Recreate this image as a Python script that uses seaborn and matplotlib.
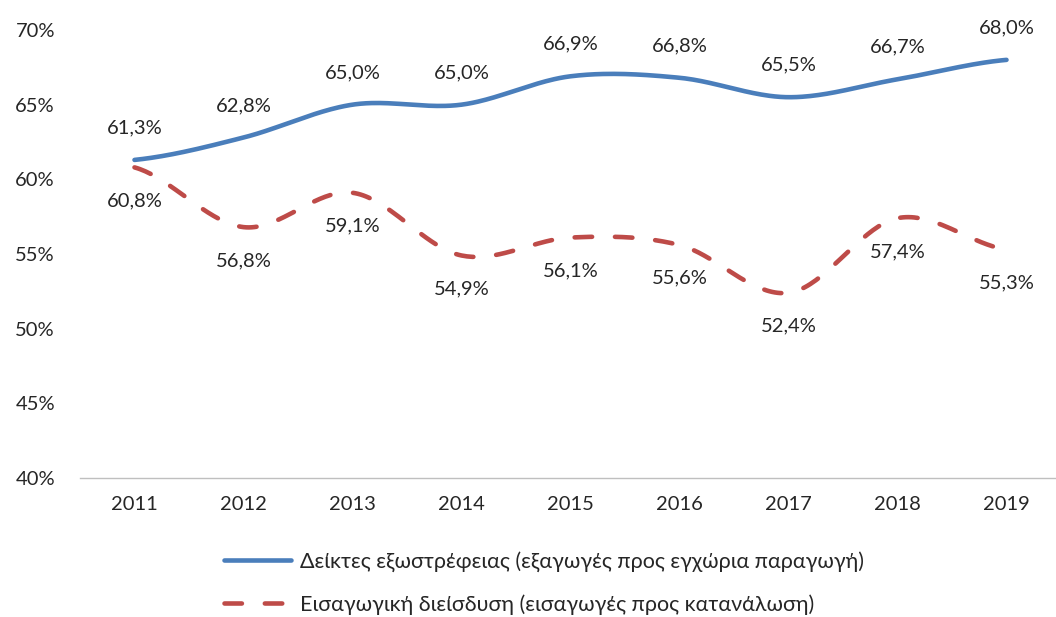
import numpy as np
import pandas as pd
import matplotlib
matplotlib.use("Agg")
import matplotlib.pyplot as plt
import seaborn as sns

years = ["2011", "2012", "2013", "2014", "2015", "2016", "2017", "2018", "2019"]
export_share = [61.3, 62.8, 65.0, 65.0, 66.9, 66.8, 65.5, 66.7, 68.0]
import_penetration = [60.8, 56.8, 59.1, 54.9, 56.1, 55.6, 52.4, 57.4, 55.3]
label_export = "Δείκτες εξωστρέφειας (εξαγωγές προς εγχώρια παραγωγή)"
label_import = "Εισαγωγική διείσδυση (εισαγωγές προς κατανάλωση)"

sns.set_theme(style="white")
plt.rcParams["font.family"] = ["Lato", "Noto Sans", "DejaVu Sans"]


def smooth(vals, n=40):
    # Catmull-Rom style smoothing (like Excel's smoothed line) for drawing only
    p = np.asarray(vals, float)
    k = len(p)
    t = np.zeros(k)
    for i in range(k):
        if i == 0:
            t[i] = (p[1] - p[0]) / 2
        elif i == k - 1:
            t[i] = (p[-1] - p[-2]) / 2
        else:
            t[i] = (p[i + 1] - p[i - 1]) / 2
    xs, ys = [], []
    for i in range(k - 1):
        s = np.linspace(0, 1, n, endpoint=(i == k - 2))
        h00 = 2 * s**3 - 3 * s**2 + 1
        h10 = s**3 - 2 * s**2 + s
        h01 = -2 * s**3 + 3 * s**2
        h11 = s**3 - s**2
        ys.append(h00 * p[i] + h10 * t[i] + h01 * p[i + 1] + h11 * t[i + 1])
        xs.append(i + s)
    return np.concatenate(xs), np.concatenate(ys)


fig = plt.figure(figsize=(10.56, 6.17), dpi=100)
ax = fig.add_axes([80 / 1056, 1 - 478 / 617, 981 / 1056, 448 / 617])

blue = "#4A7EBB"
red = "#BE4B48"
FS = 14.5

x1, y1 = smooth(export_share)
x2, y2 = smooth(import_penetration)
df1 = pd.DataFrame({"x": x1, "y": y1})
df2 = pd.DataFrame({"x": x2, "y": y2})
sns.lineplot(data=df1, x="x", y="y", ax=ax, color=blue, linewidth=3.3,
             label=label_export, solid_capstyle="round")
sns.lineplot(data=df2, x="x", y="y", ax=ax, color=red, linewidth=3.3,
             label=label_import)
ax.lines[1].set_dashes([3.8, 5.0])
ax.lines[1].set_dash_capstyle("round")

for i, v in enumerate(export_share):
    ax.annotate(f"{v:.1f}%".replace(".", ","), (i, v), xytext=(0, 23),
                textcoords="offset points", ha="center", va="center", fontsize=FS)
for i, v in enumerate(import_penetration):
    ax.annotate(f"{v:.1f}%".replace(".", ","), (i, v), xytext=(0, -24),
                textcoords="offset points", ha="center", va="center", fontsize=FS)

ax.set_xlim(-0.5, 8.5)
ax.set_ylim(40, 70)
ax.set_xticks(range(len(years)))
ax.set_xticklabels(years, fontsize=FS)
ax.set_yticks(range(40, 71, 5))
ax.set_yticklabels([f"{v}%" for v in range(40, 71, 5)], fontsize=FS)
ax.tick_params(axis="y", length=0, pad=18)
ax.tick_params(axis="x", length=0, pad=13)
ax.set_xlabel("")
ax.set_ylabel("")
for s in ["top", "right", "left"]:
    ax.spines[s].set_visible(False)
ax.spines["bottom"].set_color("#BFBFBF")
ax.spines["bottom"].set_linewidth(1)
ax.grid(False)

handles, labels = ax.get_legend_handles_labels()
ax.get_legend().remove()
leg = fig.legend(handles, labels, loc="center", bbox_to_anchor=(544 / 1056, 1 - 583 / 617),
                 ncol=1, frameon=False, fontsize=15.5, handlelength=3.1,
                 handletextpad=0.45, labelspacing=1.05)

fig.savefig("out.png", dpi=100)
